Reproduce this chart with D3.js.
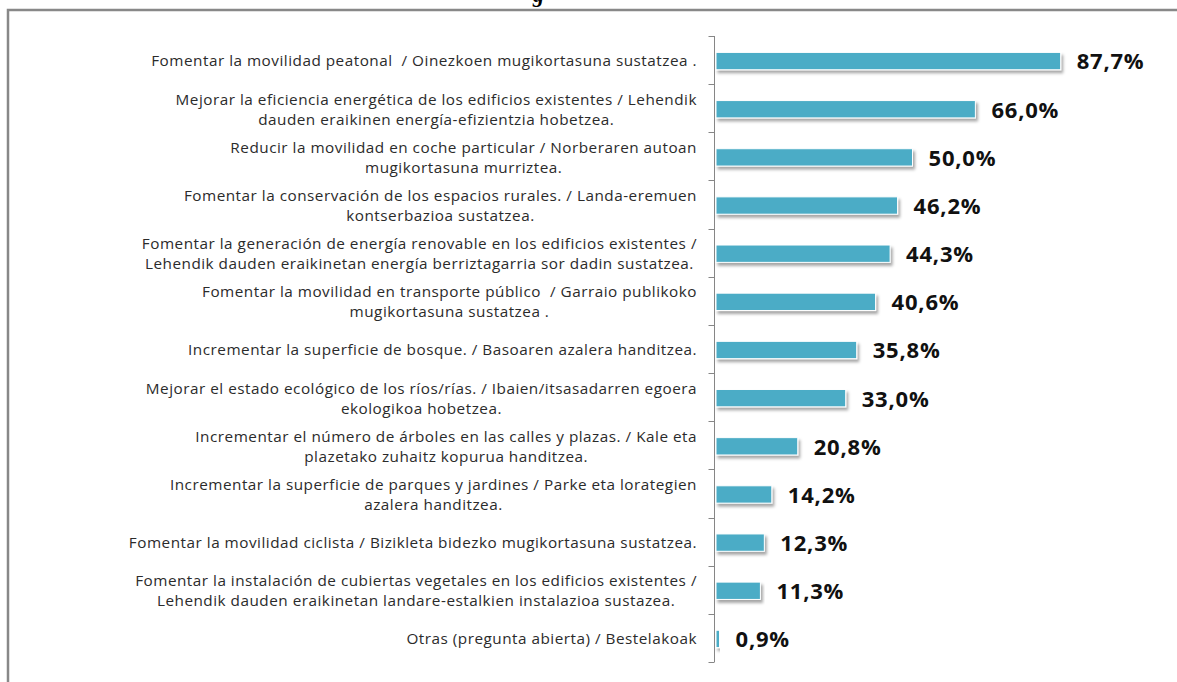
<!DOCTYPE html>
<html>
<head>
<meta charset="utf-8">
<script src="https://cdn.jsdelivr.net/npm/d3@7"></script>
<style>
  html, body { margin: 0; padding: 0; background: #fff; }
  svg { display: block; }
  text { white-space: pre; }
</style>
</head>
<body>
<svg id="chart" width="1177" height="682"></svg>
<script>
// ---- data ----
const categories = [
  ["Fomentar la movilidad peatonal  / Oinezkoen mugikortasuna sustatzea ."],
  ["Mejorar la eficiencia energética de los edificios existentes / Lehendik", "dauden eraikinen energía-efizientzia hobetzea."],
  ["Reducir la movilidad en coche particular / Norberaren autoan", "mugikortasuna murriztea."],
  ["Fomentar la conservación de los espacios rurales. / Landa-eremuen", "kontserbazioa sustatzea."],
  ["Fomentar la generación de energía renovable en los edificios existentes /", "Lehendik dauden eraikinetan energía berriztagarria sor dadin sustatzea."],
  ["Fomentar la movilidad en transporte público  / Garraio publikoko", "mugikortasuna sustatzea ."],
  ["Incrementar la superficie de bosque. / Basoaren azalera handitzea."],
  ["Mejorar el estado ecológico de los ríos/rías. / Ibaien/itsasadarren egoera", "ekologikoa hobetzea."],
  ["Incrementar el número de árboles en las calles y plazas. / Kale eta", "plazetako zuhaitz kopurua handitzea."],
  ["Incrementar la superficie de parques y jardines / Parke eta lorategien", "azalera handitzea."],
  ["Fomentar la movilidad ciclista / Bizikleta bidezko mugikortasuna sustatzea."],
  ["Fomentar la instalación de cubiertas vegetales en los edificios existentes /", "Lehendik dauden eraikinetan landare-estalkien instalazioa sustazea."],
  ["Otras (pregunta abierta) / Bestelakoak"]
];
const values = [87.7, 66.0, 50.0, 46.2, 44.3, 40.6, 35.8, 33.0, 20.8, 14.2, 12.3, 11.3, 0.9];
const titleFragment = "g";

// ---- layout ----
const svg = d3.select("#chart");
const axisX = 714.5, plotTop = 36, plotBottom = 662;
const xLeft = 716, xRight = 716 + 393;

const defs = svg.append("defs");
const f = defs.append("filter").attr("id", "shadow")
  .attr("x", "-5%").attr("y", "-50%").attr("width", "115%").attr("height", "250%");
f.append("feDropShadow").attr("dx", 2).attr("dy", 3).attr("stdDeviation", 1.6)
  .attr("flood-color", "#000").attr("flood-opacity", 0.35);

// frame border (cropped)
svg.append("path")
  .attr("d", "M8,690 L8,10 L1190,10")
  .attr("fill", "none").attr("stroke", "#888").attr("stroke-width", 2.5);

// cut-off title fragment
svg.append("text")
  .attr("x", 533).attr("y", 2)
  .attr("font-family", "Liberation Serif, serif")
  .attr("font-size", 22).attr("font-weight", "bold").attr("font-style", "italic")
  .attr("fill", "#000")
  .text(titleFragment);

const y = d3.scaleBand().domain(d3.range(categories.length)).range([plotTop, plotBottom]).paddingInner(0.64).paddingOuter(0.32);
const x = d3.scaleLinear().domain([0, 100]).range([xLeft, xRight]);

// bars
svg.append("g").selectAll("rect").data(values).join("rect")
  .attr("x", x(0))
  .attr("y", (d, i) => y(i) + 1)
  .attr("width", d => x(d) - x(0))
  .attr("height", y.bandwidth())
  .attr("fill", "#4BACC6")
  .attr("stroke", "#fff").attr("stroke-width", 1)
  .attr("filter", "url(#shadow)");

// axis line + ticks at band boundaries
const step = (plotBottom - plotTop) / categories.length;
const ag = svg.append("g");
ag.append("line").attr("x1", axisX).attr("x2", axisX).attr("y1", plotTop).attr("y2", plotBottom)
  .attr("stroke", "#868686").attr("stroke-width", 1);
ag.selectAll("line.tick").data(d3.range(categories.length + 1)).join("line")
  .attr("class", "tick")
  .attr("x1", axisX - 6).attr("x2", axisX)
  .attr("y1", i => Math.round(plotTop + i * step) + 0.5).attr("y2", i => Math.round(plotTop + i * step) + 0.5)
  .attr("stroke", "#868686").attr("stroke-width", 1);

// category labels
const labelRight = 697;
const lineH = 20;
const lg = svg.append("g")
  .attr("font-family", "'Open Sans', sans-serif")
  .attr("font-size", 15.3).attr("letter-spacing", 0.5).attr("fill", "#2b2b2b");
categories.forEach((lines, i) => {
  const cy = y(i) + y.bandwidth() / 2 + 1;
  const g = lg.append("g");
  const ts = lines.map((t, k) => g.append("text")
    .attr("text-anchor", "middle")
    .attr("y", cy + (k - (lines.length - 1) / 2) * lineH)
    .attr("dy", "0.35em")
    .text(t));
  const maxW = d3.max(ts, t => t.node().getComputedTextLength());
  ts.forEach(t => t.attr("x", labelRight - maxW / 2));
});

// value labels
const fmt = d => d3.format(".1f")(d).replace(".", ",") + "%";
svg.append("g").selectAll("text").data(values).join("text")
  .attr("x", d => x(d) + 16)
  .attr("y", (d, i) => y(i) + y.bandwidth() / 2 + 1.5)
  .attr("dy", "0.36em")
  .attr("font-family", "'Open Sans', sans-serif")
  .attr("font-weight", "bold").attr("font-size", 22).attr("letter-spacing", 0.8).attr("fill", "#111")
  .text(fmt);
</script>
</body>
</html>
